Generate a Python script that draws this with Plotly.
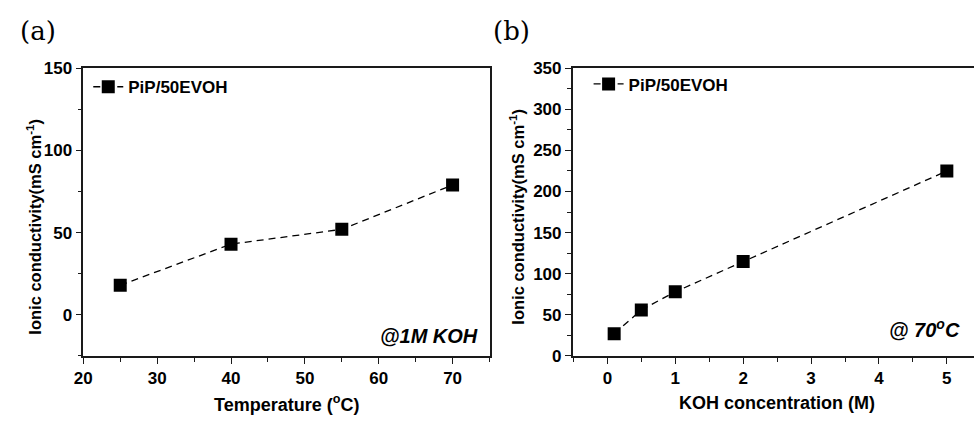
import plotly.graph_objects as go

# Panel (a): conductivity vs temperature at 1 M KOH
temp_c = [25, 40, 55, 70]
cond_temp = [18, 43, 52, 79]

# Panel (b): conductivity vs KOH concentration at 70 C
koh_m = [0.1, 0.5, 1, 2, 5]
cond_koh = [27, 56, 78, 115, 225]

series_name = "PiP/50EVOH"

W, H = 974, 429
FONT = "Arial, Liberation Sans, sans-serif"
AX = "#1a1a1a"


def px_x(v):
    return v / W


def px_y(v):
    return 1 - v / H


fig = go.Figure()

line_style = dict(color="black", width=1.3, dash="7px,5px")
marker_style = dict(symbol="square", size=13, color="black")

fig.add_trace(go.Scatter(
    x=temp_c, y=cond_temp, mode="lines+markers", name=series_name,
    line=line_style, marker=marker_style, xaxis="x", yaxis="y", legend="legend",
))
fig.add_trace(go.Scatter(
    x=koh_m, y=cond_koh, mode="lines+markers", name=series_name,
    line=line_style, marker=marker_style, xaxis="x2", yaxis="y2", legend="legend2",
))

tick_font = dict(family=FONT, size=17, color="black", weight=700)

common_axis = dict(
    showline=True, linecolor=AX, linewidth=1.6,
    ticks="outside", ticklen=6, tickwidth=1.4, tickcolor=AX,
    showgrid=False, zeroline=False, tickfont=tick_font,
)
minor_ticks = dict(ticklen=4, tickwidth=1.2, tickcolor=AX, ticks="outside")

fig.update_layout(
    width=W, height=H,
    margin=dict(l=0, r=0, t=0, b=0),
    paper_bgcolor="white", plot_bgcolor="white",
    showlegend=True,
    xaxis=dict(
        domain=[px_x(75), px_x(485)], range=[20, 75], anchor="y",
        tick0=20, dtick=10, mirror=True,
        minor=dict(dtick=5, **minor_ticks),
        **common_axis,
    ),
    yaxis=dict(
        domain=[px_y(363), px_y(62)], range=[-25, 150], anchor="x",
        tick0=0, dtick=50, mirror=True,
        minor=dict(dtick=25, **minor_ticks),
        **common_axis,
    ),
    xaxis2=dict(
        domain=[px_x(569), 1.0], range=[-0.51, 5.4], anchor="y2",
        tick0=0, dtick=1, mirror=True,
        minor=dict(dtick=0.5, **minor_ticks),
        **common_axis,
    ),
    yaxis2=dict(
        domain=[px_y(363), px_y(62)], range=[0, 350], anchor="x2",
        tick0=0, dtick=50, mirror=False,
        minor=dict(dtick=25, **minor_ticks),
        **common_axis,
    ),
    legend=dict(
        x=px_x(80), y=px_y(63), xanchor="left", yanchor="top",
        bgcolor="rgba(0,0,0,0)", borderwidth=0,
        font=dict(family=FONT, size=17, color="black", weight=700),
        itemwidth=30, tracegroupgap=0,
    ),
    legend2=dict(
        x=px_x(585), y=px_y(60), xanchor="left", yanchor="top",
        bgcolor="rgba(0,0,0,0)", borderwidth=0,
        font=dict(family=FONT, size=17, color="black", weight=700),
        itemwidth=30, tracegroupgap=0,
    ),
)

title_font = dict(family=FONT, size=18, color="black", weight=700)
ytitle_font = dict(family=FONT, size=16.5, color="black", weight=700)
panel_font = dict(family="DejaVu Serif, serif", size=26, color="black")
note_font = dict(family=FONT, size=20, color="black", weight=700)

annotations = [
    # panel labels
    dict(text="(a)", x=px_x(9), y=px_y(23), xanchor="left", yanchor="middle", font=panel_font),
    dict(text="(b)", x=px_x(486), y=px_y(23), xanchor="left", yanchor="middle", font=panel_font),
    # axis titles
    dict(text="Temperature (<sup>o</sup>C)", x=px_x(280), y=px_y(413),
         xanchor="center", yanchor="middle", font=title_font),
    dict(text="KOH concentration (M)", x=px_x(775), y=px_y(412),
         xanchor="center", yanchor="middle", font=title_font),
    dict(text="Ionic conductivity(mS cm<sup>-1</sup>)", x=px_x(25), y=px_y(228),
         xanchor="center", yanchor="middle", textangle=-90, font=ytitle_font),
    dict(text="Ionic conductivity(mS cm<sup>-1</sup>)", x=px_x(513), y=px_y(217),
         xanchor="center", yanchor="middle", textangle=-90, font=ytitle_font),
    # condition labels
    dict(text="<i>@1M KOH</i>", x=px_x(475), y=px_y(342), xanchor="right", yanchor="middle",
         font=note_font),
    dict(text="<i>@ 70<sup>o</sup>C</i>", x=px_x(962), y=px_y(334), xanchor="right", yanchor="middle",
         font=note_font),
]
for a in annotations:
    a.update(xref="paper", yref="paper", showarrow=False)
fig.update_layout(annotations=annotations)

fig.write_html("out.html")
